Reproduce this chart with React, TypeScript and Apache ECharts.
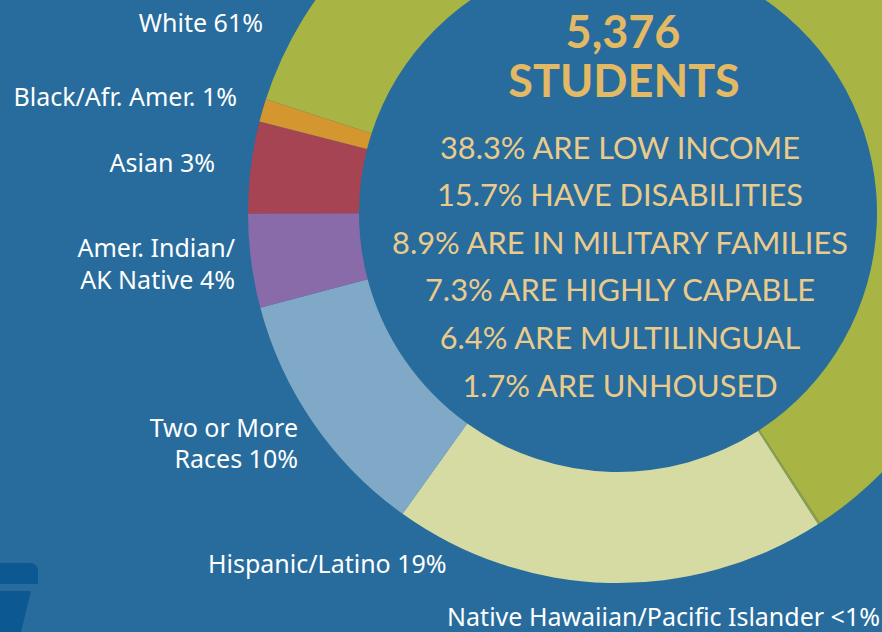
import React, { useEffect, useRef } from "react";
import * as echarts from "echarts";

const categories = [
  "White",
  "Native Hawaiian/Pacific Islander",
  "Hispanic/Latino",
  "Two or More Races",
  "Amer. Indian/AK Native",
  "Asian",
  "Black/Afr. Amer.",
];
const sliceValues = [60.9, 0.1, 19.0, 11.0, 4.1, 4.0, 1.0];
const labelTexts = [
  "White 61%",
  "Native Hawaiian/Pacific Islander <1%",
  "Hispanic/Latino 19%",
  "Two or More\nRaces 10%",
  "Amer. Indian/\nAK Native 4%",
  "Asian 3%",
  "Black/Afr. Amer. 1%",
];
const sliceColors = ["#a8b443", "#8f9f45", "#d6dba4", "#80a9c8", "#8a6ba9", "#a64453", "#d4962f"];
const totalStudents = "5,376";
const totalLabel = "STUDENTS";
const statLines = [
  "38.3% ARE LOW INCOME",
  "15.7% HAVE DISABILITIES",
  "8.9% ARE IN MILITARY FAMILIES",
  "7.3% ARE HIGHLY CAPABLE",
  "6.4% ARE MULTILINGUAL",
  "1.7% ARE UNHOUSED",
];

// label layout (x, y, align, line height) in pixels
const labelLayouts: { x: number; y: number; align: "left" | "right"; lh: number }[] = [
  { x: 263, y: 22, align: "right", lh: 30 },
  { x: 880, y: 616, align: "right", lh: 30 },
  { x: 208, y: 563, align: "left", lh: 30 },
  { x: 298, y: 442, align: "right", lh: 31 },
  { x: 235, y: 263, align: "right", lh: 32 },
  { x: 215, y: 162, align: "right", lh: 30 },
  { x: 237, y: 96, align: "right", lh: 30 },
];

const BG = "#276c9c";
const labelFont = "'Noto Sans', sans-serif";
const centerFont = "Lato, sans-serif";

export default function App() {
  const ref = useRef<HTMLDivElement>(null);
  useEffect(() => {
    if (!ref.current) return;
    const chart = echarts.init(ref.current, undefined, { renderer: "svg" });
    const graphics: any[] = [
      {
        type: "rect",
        silent: true,
        shape: { x: -10, y: 563, width: 48, height: 21, r: [0, 8, 0, 0] },
        style: { fill: "#0b5893" },
      },
      {
        type: "polygon",
        silent: true,
        shape: { points: [[0, 591], [31, 591], [21, 632], [0, 632]] },
        style: { fill: "#0b5893" },
      },
      {
        type: "text",
        x: 623,
        y: 31,
        style: {
          text: totalStudents,
          fill: "#e3b964",
          font: `bold 45px ${centerFont}`,
          align: "center",
          verticalAlign: "middle",
        },
      },
      {
        type: "text",
        x: 624,
        y: 80,
        style: {
          text: totalLabel,
          fill: "#e3b964",
          font: `bold 45px ${centerFont}`,
          align: "center",
          verticalAlign: "middle",
        },
      },
    ];
    statLines.forEach((t, i) => {
      graphics.push({
        type: "text",
        x: 620,
        y: 147 + i * 47.6,
        style: {
          text: t,
          fill: "#ebcb8b",
          font: `30.8px ${centerFont}`,
          align: "center",
          verticalAlign: "middle",
        },
      });
    });
    chart.setOption({
      animation: false,
      backgroundColor: BG,
      graphic: graphics,
      series: [
        {
          type: "pie",
          center: [618, 213],
          radius: [259, 370],
          startAngle: 162.1,
          clockwise: true,
          avoidLabelOverlap: false,
          silent: true,
          itemStyle: { borderWidth: 0 },
          label: {
            show: true,
            position: "outside",
            formatter: (p: any) => labelTexts[p.dataIndex],
            color: "#ffffff",
            fontSize: 25,
            lineHeight: 30,
            fontFamily: labelFont,
          },
          labelLine: { show: false },
          labelLayout: (p: any) => {
            const l = labelLayouts[p.dataIndex];
            return { x: l.x, y: l.y, align: l.align, verticalAlign: "middle" };
          },
          data: categories.map((c, i) => ({
            name: c,
            value: sliceValues[i],
            itemStyle: { color: sliceColors[i] },
            label: { align: labelLayouts[i].align, lineHeight: labelLayouts[i].lh },
          })),
        },
      ],
    });
    return () => chart.dispose();
  }, []);
  return (
    <div
      ref={ref}
      style={{ position: "fixed", left: 0, top: 0, width: 882, height: 632 }}
    />
  );
}
